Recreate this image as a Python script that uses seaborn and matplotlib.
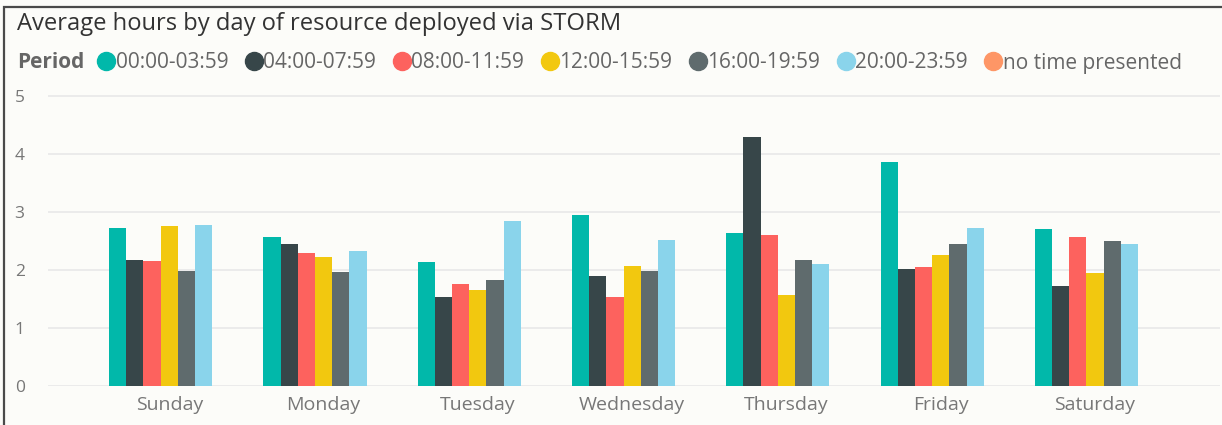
"""Average hours by day of resource deployed via STORM - grouped bar chart."""

import matplotlib.pyplot as plt
import matplotlib.patches as mpatches
from matplotlib.lines import Line2D
import pandas as pd
import seaborn as sns

# Data
days = ["Sunday", "Monday", "Tuesday", "Wednesday", "Thursday", "Friday", "Saturday"]
periods = ["00:00-03:59", "04:00-07:59", "08:00-11:59", "12:00-15:59",
           "16:00-19:59", "20:00-23:59", "no time presented"]
h_00_04 = [2.73, 2.57, 2.14, 2.95, 2.64, 3.86, 2.70]
h_04_08 = [2.18, 2.44, 1.53, 1.89, 4.29, 2.02, 1.73]
h_08_12 = [2.16, 2.30, 1.75, 1.53, 2.61, 2.05, 2.57]
h_12_16 = [2.75, 2.23, 1.66, 2.07, 1.57, 2.25, 1.94]
h_16_20 = [1.98, 1.96, 1.82, 1.98, 2.18, 2.45, 2.50]
h_20_24 = [2.77, 2.32, 2.84, 2.52, 2.10, 2.73, 2.44]
h_no_time = [0, 0, 0, 0, 0, 0, 0]
yticks = [0, 1, 2, 3, 4, 5]

colors = ["#01B8AA", "#374649", "#FD625E", "#F2C80F", "#5F6B6D", "#8AD4EB", "#FE9666"]

series = [h_00_04, h_04_08, h_08_12, h_12_16, h_16_20, h_20_24, h_no_time]
rows = []
for period, values in zip(periods, series):
    for day, v in zip(days, values):
        rows.append({"Day": day, "Period": period, "Hours": v})
df = pd.DataFrame(rows)

sns.set_theme(style="white")
plt.rcParams["font.family"] = ["Open Sans", "DejaVu Sans"]

W, H = 1222, 425
fig = plt.figure(figsize=(W / 100, H / 100), dpi=100)
fig.patch.set_facecolor("#FCFCF9")

ax = fig.add_axes([48 / W, (H - 386) / H, (W - 50) / W, (386 - 93) / H])
ax.set_facecolor("none")

sns.barplot(data=df, x="Day", y="Hours", hue="Period", order=days, hue_order=periods,
            palette=colors, saturation=1, width=0.78, linewidth=0, errorbar=None,
            ax=ax, zorder=3)

ax.set_xlim(-0.786, 6.81)
ax.set_ylim(0, 5.05)
ax.set_yticks(yticks)
ax.yaxis.grid(True, color="#EAEAEA", linewidth=1.3, zorder=0)
ax.set_axisbelow(True)
for s in ax.spines.values():
    s.set_visible(False)
ax.tick_params(axis="y", length=0, pad=24, labelsize=12.5, labelcolor="#777777")
ax.tick_params(axis="x", length=0, pad=7, labelsize=14, labelcolor="#777777")
for lbl in ax.get_yticklabels():
    lbl.set_horizontalalignment("left")
ax.set_xlabel("")
ax.set_ylabel("")
ax.get_legend().remove()

# visual border
frame = mpatches.Rectangle((3.5 / W, -0.1), 1.2, 1.1 - 7 / H, transform=fig.transFigure,
                           facecolor="none", edgecolor="#4A4A4A", linewidth=1.6,
                           zorder=10)
fig.patches.append(frame)

# Title and legend
fig.text(17 / W, 1 - 24 / H, "Average hours by day of resource deployed via STORM",
         fontsize=17.1, color="#333333", va="center", ha="left")
fig.text(17 / W, 1 - 62 / H, "Period", fontsize=15, fontweight="bold",
         color="#666666", va="center", ha="left")
handles = [Line2D([0], [0], marker="o", linestyle="", markersize=13,
                  markerfacecolor=c, markeredgecolor=c) for c in colors]
fig.legend(handles, periods, loc="center left", bbox_to_anchor=(98 / W, 1 - 63 / H),
           ncol=7, frameon=False, fontsize=15, handlelength=0.8, handletextpad=0.05,
           columnspacing=0.83, borderaxespad=0, borderpad=0, labelcolor="#666666")

fig.savefig("out.png", dpi=100, facecolor=fig.get_facecolor())
plt.close(fig)
